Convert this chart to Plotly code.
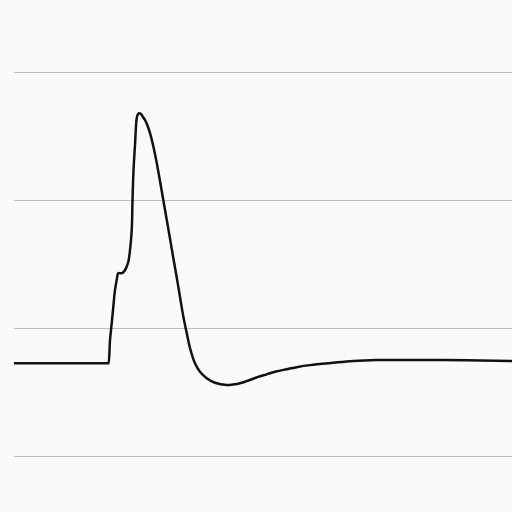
import plotly.graph_objects as go

time_ms = [0, 5.0, 9.4, 9.47, 9.64, 9.81, 9.97, 10.14, 10.31, 10.47, 10.69, 10.91, 11.09, 11.24, 11.48, 11.65,
           11.82, 11.9, 12.0, 12.15, 12.3, 12.4, 12.55, 12.75, 12.95, 13.15, 13.4, 13.65, 13.96, 14.33,
           14.66, 14.99, 15.33, 15.66, 15.99, 16.33, 16.67, 17.0, 17.34, 17.67, 18.17, 18.67, 19.35, 20.18,
           21.36, 21.99, 22.69, 23.7, 24.5, 25.37, 26.3, 27.38, 28.5, 29.72, 32.03, 34.04, 36.42, 38.76,
           42.07, 45.46, 50.0]
voltage_mv = [-63.8, -63.8, -63.8, -63.8, -54.7, -48.2, -41.7, -35.2, -31.3, -28.6, -28.6, -28.5, -27.7, -26.7, -24.1, -19.5,
              -11.7, 0.0, 11.7, 21.5, 31.3, 33.2, 33.9, 33.6, 32.4, 31.3, 29.1, 26.2, 21.5, 14.5,
              7.4, 0.0, -7.6, -15.0, -22.5, -30.1, -37.9, -45.5, -51.9, -57.8, -63.8, -67.1, -69.6, -71.4,
              -72.3, -72.1, -71.6, -70.3, -69.1, -68.1, -67.0, -66.1, -65.2, -64.5, -63.6, -62.9, -62.5, -62.5,
              -62.5, -62.6, -62.9]
y_ticks = [-100, -50, 0, 50]

fig = go.Figure(go.Scatter(x=time_ms, y=voltage_mv, mode="lines",
                           line=dict(color="#111111", width=2.5, shape="spline", smoothing=1.0)))
fig.update_layout(
    width=512, height=512,
    margin=dict(l=14, r=0, t=0, b=0),
    paper_bgcolor="#fafafa", plot_bgcolor="#fafafa",
    showlegend=False,
    xaxis=dict(range=[0, 50], showgrid=False, zeroline=False, showticklabels=False, showline=False),
    yaxis=dict(range=[-121.875, 78.125], tickvals=y_ticks, showgrid=True, gridcolor="#bdbdbd",
               gridwidth=1.2, zeroline=False, showticklabels=False, showline=False),
)
fig.write_html("out.html", config={"displayModeBar": False},
               post_script="document.body.style.margin='0';document.body.style.overflow='hidden';"
                           "document.body.style.background='#fafafa';")
